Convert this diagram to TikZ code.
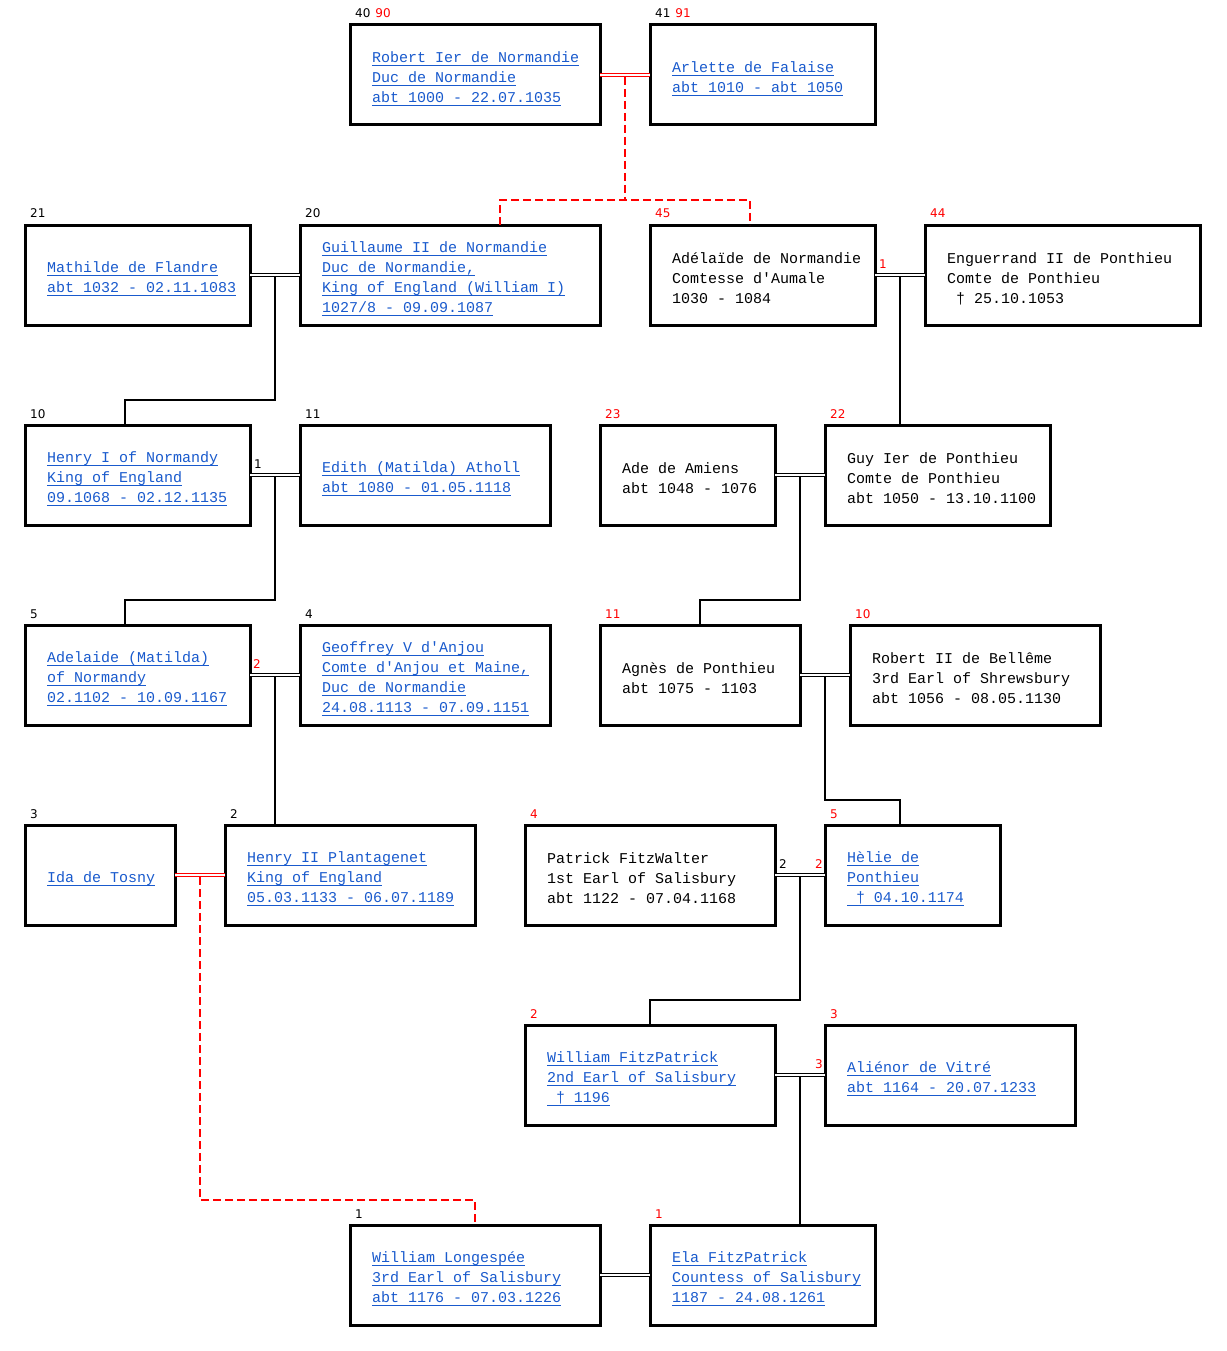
\documentclass[tikz,border=0pt]{standalone}
\usepackage{fontspec}
\setmonofont{Liberation Mono}
\newfontfamily\labfont{DejaVu Sans}
\usetikzlibrary{calc}
\definecolor{lblue}{RGB}{25,90,205}
\definecolor{lred}{RGB}{255,0,0}
\ExplSyntaxOn
\seq_new:N \l__fwtext_seq
\cs_new_protected:Npn \fwtext #1
  {
    \seq_set_split:Nnn \l__fwtext_seq { ~ } { #1 }
    \seq_use:Nn \l__fwtext_seq { \hspace*{9pt} }
  }
\ExplSyntaxOff
\newcommand\boxfont{\fontsize{15}{20}\selectfont\ttfamily}
\newcommand\lk[1]{\leavevmode\setbox0\hbox{\fwtext{#1}}\rlap{\color{lblue}\rule[-3.5pt]{\wd0}{0.9pt}}{\color{lblue}\box0}}
\newcommand\pl[1]{\leavevmode\hbox{\fwtext{#1}}}
\newcommand\person[5]{%
  \pgfmathsetmacro\pw{#4-#2}\pgfmathsetmacro\tw{#4-#2-44}%
  \pgfmathsetmacro\cx{(#2+#4)/2}\pgfmathsetmacro\cy{#3+50}%
  \node[person, text width=\tw pt, minimum width=\pw pt] (#1) at (\cx,\cy) {\rule{0pt}{18pt}#5};}
\newcommand\gen[2]{\node[gl, anchor=base west] (#1-g) at ([xshift=5pt,yshift=7pt]#1.north west) {#2};}
\tikzset{
  person/.style={draw, line width=3pt, rectangle, minimum height=100pt, inner xsep=22pt, inner ysep=0pt, outer sep=0pt, align=left, font=\boxfont},
  gl/.style={inner sep=0pt, font=\labfont\fontsize{12}{14}\selectfont},
  marr/.style={draw=black, line width=0.9pt, double=white, double distance=2pt},
  redmarr/.style={marr, draw=lred},
  desc/.style={draw, line width=2pt},
  rdesc/.style={draw=lred, line width=2pt, dash pattern=on 8pt off 4pt},
}
\begin{document}
\begin{tikzpicture}[x=1pt,y=-1pt]
\useasboundingbox[fill=white] (0,0) rectangle (1226,1351);
% row 1
\person{rob}{350}{25}{600}{\lk{Robert Ier de Normandie}\\\lk{Duc de Normandie}\\\lk{abt 1000 - 22.07.1035}}
\person{arl}{650}{25}{875}{\lk{Arlette de Falaise}\\\lk{abt 1010 - abt 1050}}
% row 2
\person{mat}{25}{225}{250}{\lk{Mathilde de Flandre}\\\lk{abt 1032 - 02.11.1083}}
\person{gui}{300}{225}{600}{\lk{Guillaume II de Normandie}\\\lk{Duc de Normandie,}\\\lk{King of England (William I)}\\\lk{1027/8 - 09.09.1087}}
\person{ade}{650}{225}{875}{\pl{Adélaïde de Normandie}\\\pl{Comtesse d'Aumale}\\\pl{1030 - 1084}}
\person{eng}{925}{225}{1200}{\pl{Enguerrand II de Ponthieu}\\\pl{Comte de Ponthieu}\\\pl{\hphantom{0}† 25.10.1053}}
% row 3
\person{hen}{25}{425}{250}{\lk{Henry I of Normandy}\\\lk{King of England}\\\lk{09.1068 - 02.12.1135}}
\person{edi}{300}{425}{550}{\lk{Edith (Matilda) Atholl}\\\lk{abt 1080 - 01.05.1118}}
\person{ami}{600}{425}{775}{\pl{Ade de Amiens}\\\pl{abt 1048 - 1076}}
\person{guy}{825}{425}{1050}{\pl{Guy Ier de Ponthieu}\\\pl{Comte de Ponthieu}\\\pl{abt 1050 - 13.10.1100}}
% row 4
\person{adl}{25}{625}{250}{\lk{Adelaide (Matilda)}\\\lk{of Normandy}\\\lk{02.1102 - 10.09.1167}}
\person{geo}{300}{625}{550}{\lk{Geoffrey V d'Anjou}\\\lk{Comte d'Anjou et Maine,}\\\lk{Duc de Normandie}\\\lk{24.08.1113 - 07.09.1151}}
\person{agn}{600}{625}{800}{\pl{Agnès de Ponthieu}\\\pl{abt 1075 - 1103}}
\person{rbt}{850}{625}{1100}{\pl{Robert II de Bellême}\\\pl{3rd Earl of Shrewsbury}\\\pl{abt 1056 - 08.05.1130}}
% row 5
\person{ida}{25}{825}{175}{\lk{Ida de Tosny}}
\person{hii}{225}{825}{475}{\lk{Henry II Plantagenet}\\\lk{King of England}\\\lk{05.03.1133 - 06.07.1189}}
\person{pat}{525}{825}{775}{\pl{Patrick FitzWalter}\\\pl{1st Earl of Salisbury}\\\pl{abt 1122 - 07.04.1168}}
\person{hel}{825}{825}{1000}{\lk{Hèlie de}\\\lk{Ponthieu}\\\lk{\hphantom{0}† 04.10.1174}}
% row 6
\person{wfp}{525}{1025}{775}{\lk{William FitzPatrick}\\\lk{2nd Earl of Salisbury}\\\lk{\hphantom{0}† 1196}}
\person{ali}{825}{1025}{1075}{\lk{Aliénor de Vitré}\\\lk{abt 1164 - 20.07.1233}}
% row 7
\person{lon}{350}{1225}{600}{\lk{William Longespée}\\\lk{3rd Earl of Salisbury}\\\lk{abt 1176 - 07.03.1226}}
\person{ela}{650}{1225}{875}{\lk{Ela FitzPatrick}\\\lk{Countess of Salisbury}\\\lk{1187 - 24.08.1261}}
% generation labels
\gen{rob}{40\hspace{5pt}\textcolor{lred}{90}}
\gen{arl}{41\hspace{5pt}\textcolor{lred}{91}}
\gen{mat}{21}
\gen{gui}{20}
\gen{ade}{\textcolor{lred}{45}}
\gen{eng}{\textcolor{lred}{44}}
\gen{hen}{10}
\gen{edi}{11}
\gen{ami}{\textcolor{lred}{23}}
\gen{guy}{\textcolor{lred}{22}}
\gen{adl}{5}
\gen{geo}{4}
\gen{agn}{\textcolor{lred}{11}}
\gen{rbt}{\textcolor{lred}{10}}
\gen{ida}{3}
\gen{hii}{2}
\gen{pat}{\textcolor{lred}{4}}
\gen{hel}{\textcolor{lred}{5}}
\gen{wfp}{\textcolor{lred}{2}}
\gen{ali}{\textcolor{lred}{3}}
\gen{lon}{1}
\gen{ela}{\textcolor{lred}{1}}
% marriage order labels
\node[gl, anchor=base west, text=lred] (m-ade) at ([xshift=4pt,yshift=7pt]ade.east) {1};
\node[gl, anchor=base west] (m-hen) at ([xshift=4pt,yshift=7pt]hen.east) {1};
\node[gl, anchor=base west, text=lred] (m-adl) at ([xshift=3pt,yshift=7pt]adl.east) {2};
\node[gl, anchor=base west] (m-pat) at ([xshift=4pt,yshift=7pt]pat.east) {2};
\node[gl, anchor=base east, text=lred] (m-hel) at ([xshift=-2pt,yshift=7pt]hel.west) {2};
\node[gl, anchor=base east, text=lred] (m-ali) at ([xshift=-2pt,yshift=7pt]ali.west) {3};
% marriages
\draw[redmarr] (rob.east) -- (arl.west);
\draw[marr] (mat.east) -- (gui.west);
\draw[marr] (ade.east) -- (eng.west);
\draw[marr] (hen.east) -- (edi.west);
\draw[marr] (ami.east) -- (guy.west);
\draw[marr] (adl.east) -- (geo.west);
\draw[marr] (agn.east) -- (rbt.west);
\draw[redmarr] (ida.east) -- (hii.west);
\draw[marr] (pat.east) -- (hel.west);
\draw[marr] (wfp.east) -- (ali.west);
\draw[marr] (lon.east) -- (ela.west);
% junctions
\coordinate (j1) at ($(rob.east)!0.5!(arl.west)+(0,2)$);
\coordinate (j2) at ($(mat.east)!0.5!(gui.west)+(0,2)$);
\coordinate (j3) at ($(ade.east)!0.5!(eng.west)+(0,2)$);
\coordinate (j4) at ($(hen.east)!0.5!(edi.west)+(0,2)$);
\coordinate (j5) at ($(ami.east)!0.5!(guy.west)+(0,2)$);
\coordinate (j6) at ($(adl.east)!0.5!(geo.west)+(0,2)$);
\coordinate (j7) at ($(agn.east)!0.5!(rbt.west)+(0,2)$);
\coordinate (j8) at ($(ida.east)!0.5!(hii.west)+(0,2)$);
\coordinate (j9) at ($(pat.east)!0.5!(hel.west)+(0,2)$);
\coordinate (j10) at ($(wfp.east)!0.5!(ali.west)+(0,2)$);
% descent
\draw[rdesc] (j1) -- ++(0,123);
\draw[rdesc] ([xshift=50pt]gui.north) -- ++(0,-25) -| ([xshift=-12.5pt]ade.north);
\draw[desc] (j2) -- ++(0,123) -| ([xshift=-12.5pt]hen.north);
\draw[desc] (j3) -- ([xshift=-37.5pt]guy.north);
\draw[desc] (j4) -- ++(0,123) -| ([xshift=-12.5pt]adl.north);
\draw[desc] (j5) -- ++(0,123) -| (agn.north);
\draw[desc] (j6) -- ([xshift=-75pt]hii.north);
\draw[desc] (j7) -- ++(0,123) -| ([xshift=-12.5pt]hel.north);
\draw[rdesc] (j8) -- ++(0,323) -| (lon.north);
\draw[desc] (j9) -- ++(0,123) -| (wfp.north);
\draw[desc] (j10) -- ([xshift=37.5pt]ela.north);
\end{tikzpicture}
\end{document}
